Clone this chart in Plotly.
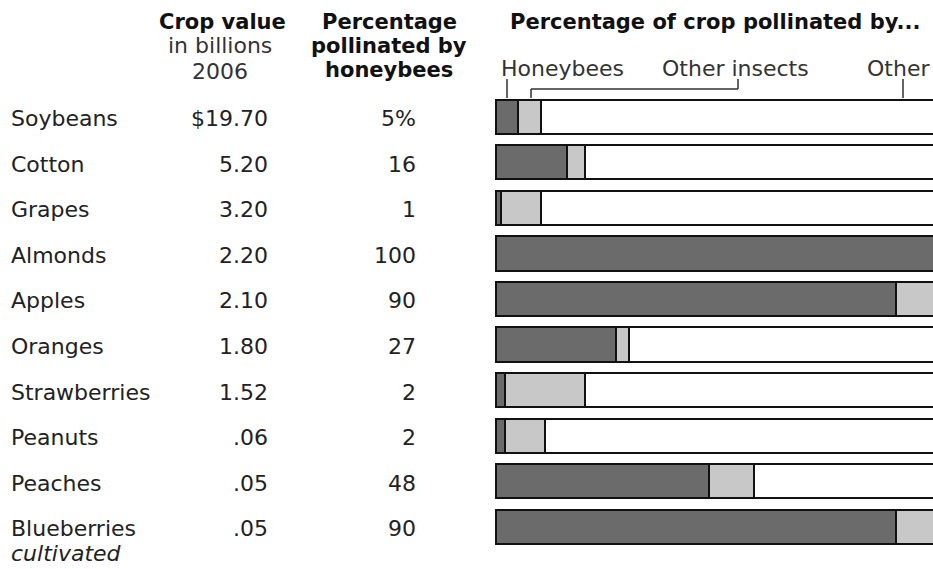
import plotly.graph_objects as go

crops = ["Soybeans", "Cotton", "Grapes", "Almonds", "Apples", "Oranges",
         "Strawberries", "Peanuts", "Peaches", "Blueberries"]
crop_value_labels = ["$19.70", "5.20", "3.20", "2.20", "2.10", "1.80",
                     "1.52", ".06", ".05", ".05"]
honeybee_pct = [5, 16, 1, 100, 90, 27, 2, 2, 48, 90]
other_insects_pct = [5, 4, 9, 0, 10, 3, 18, 9, 10, 10]
other_pct = [100 - h - o for h, o in zip(honeybee_pct, other_insects_pct)]
pct_labels = [f"{honeybee_pct[0]}%"] + [str(v) for v in honeybee_pct[1:]]

W, H = 933, 569
FONT = "DejaVu Sans"

def px(x):
    return x / W

def py(y):
    return 1 - y / H

fig = go.Figure()
line = dict(color="#111111", width=2)
for name, vals, col in [("Honeybees", honeybee_pct, "#6b6b6b"),
                        ("Other insects", other_insects_pct, "#c8c8c8"),
                        ("Other", other_pct, "#ffffff")]:
    fig.add_trace(go.Bar(y=crops, x=vals, orientation="h", name=name,
                         marker=dict(color=col, line=line),
                         hoverinfo="x+y"))

ann = []
rowfont = dict(family=FONT, size=22, color="#222222")
for c, v, p in zip(crops, crop_value_labels, pct_labels):
    ann.append(dict(x=px(9), y=c, xref="paper", yref="y", text=c,
                    xanchor="left", yanchor="middle", showarrow=False,
                    font=rowfont, yshift=-2))
    ann.append(dict(x=px(270), y=c, xref="paper", yref="y", text=v,
                    xanchor="right", yanchor="middle", showarrow=False,
                    font=rowfont, yshift=-2))
    ann.append(dict(x=px(418), y=c, xref="paper", yref="y", text=p,
                    xanchor="right", yanchor="middle", showarrow=False,
                    font=rowfont, yshift=-2))
ann.append(dict(x=px(9), y=py(553), xref="paper", yref="paper",
                text="<i>cultivated</i>", xanchor="left", yanchor="middle",
                showarrow=False, font=rowfont))

bold = dict(family=FONT, size=21, color="#111111", weight="bold")
light = dict(family=FONT, size=22, color="#333333")
hdrs = [("<b>Crop value</b>", 222, 22, bold, "center"),
        ("in billions", 220, 46, light, "center"),
        ("2006", 220, 72, light, "center"),
        ("<b>Percentage</b>", 389, 22, bold, "center"),
        ("<b>pollinated by</b>", 389, 46, bold, "center"),
        ("<b>honeybees</b>", 389, 70, bold, "center"),
        ("<b>Percentage of crop pollinated by...</b>", 508, 22, bold, "left"),
        ("Honeybees", 499, 68, light, "left"),
        ("Other insects", 660, 68, light, "left"),
        ("Other", 865, 68, light, "left")]
for t, x, y, f, xa in hdrs:
    ann.append(dict(x=px(x), y=py(y), xref="paper", yref="paper", text=t,
                    xanchor=xa, yanchor="middle", showarrow=False, font=f))

lc = dict(color="#333333", width=1.5)
shapes = []
for (x0, y0, x1, y1) in [(507, 79, 507, 98), (738, 79, 738, 89),
                         (531, 89, 738, 89), (531, 89, 531, 98),
                         (903, 79, 903, 98)]:
    shapes.append(dict(type="line", xref="paper", yref="paper",
                       x0=px(x0), y0=py(y0), x1=px(x1), y1=py(y1), line=lc))

plot_w = W - 495
fig.update_layout(
    width=W, height=H, barmode="stack", bargap=0.25,
    margin=dict(l=0, r=0, t=0, b=0),
    plot_bgcolor="white", paper_bgcolor="white", showlegend=False,
    xaxis=dict(domain=[px(495), 1], range=[-0.25, -0.25 + plot_w / 4.44],
               visible=False, fixedrange=True),
    yaxis=dict(domain=[py(549.5), py(94)], autorange="reversed",
               visible=False, fixedrange=True),
    annotations=ann, shapes=shapes,
    font=dict(family=FONT),
)
fig.write_html("out.html",
               config={"displayModeBar": False},
               post_script="document.body.style.margin='0';"
                           "document.body.style.overflow='hidden';")
